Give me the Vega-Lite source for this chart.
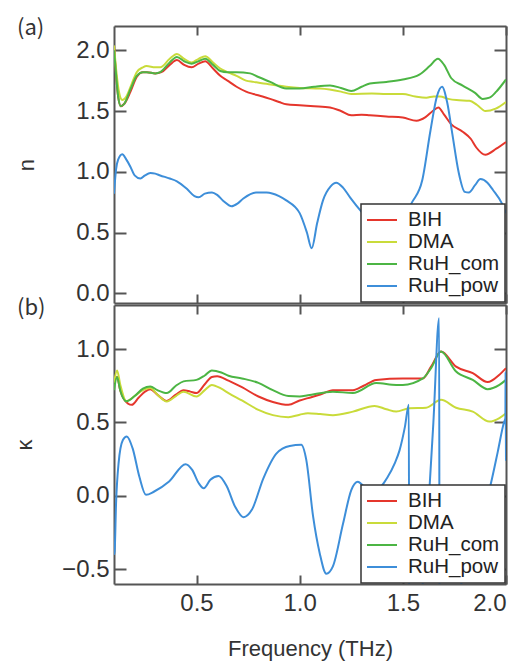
{
"$schema": "https://vega.github.io/schema/vega-lite/v6.json",
"padding": {"left": 13, "top": 17, "right": 12, "bottom": 5},
"config": {
  "view": {"stroke": null},
  "font": "Liberation Sans",
  "axis": {"domainColor": "#555", "domainWidth": 2, "tickColor": "#555", "tickWidth": 2, "grid": false, "labelColor": "#333", "labelFontSize": 24, "labelFont": "Liberation Sans", "titleColor": "#333", "titleFontWeight": "normal", "titleFontSize": 22, "titleFont": "Liberation Sans"},
  "legend": {"orient": "bottom-right", "offset": 1, "title": null, "labelFont": "Liberation Sans", "labelFontSize": 20.5, "labelColor": "#222", "symbolType": "M-1,0H2", "symbolSize": 400, "symbolStrokeWidth": 2, "labelOffset": 20, "padding": 5, "rowPadding": -1.8, "strokeColor": "#333", "strokeWidth": 1.5, "fillColor": "white", "cornerRadius": 0}
},
"datasets": {"d": [
{"p":"n","s":"BIH","o":0,"f":0.1,"v":2.03},{"p":"n","s":"BIH","o":1,"f":0.11,"v":1.8},{"p":"n","s":"BIH","o":2,"f":0.12,"v":1.62},{"p":"n","s":"BIH","o":3,"f":0.133,"v":1.54},{"p":"n","s":"BIH","o":4,"f":0.15,"v":1.56},{"p":"n","s":"BIH","o":5,"f":0.18,"v":1.66},{"p":"n","s":"BIH","o":6,"f":0.21,"v":1.78},{"p":"n","s":"BIH","o":7,"f":0.24,"v":1.82},{"p":"n","s":"BIH","o":8,"f":0.26,"v":1.82},{"p":"n","s":"BIH","o":9,"f":0.3,"v":1.81},{"p":"n","s":"BIH","o":10,"f":0.33,"v":1.82},{"p":"n","s":"BIH","o":11,"f":0.37,"v":1.88},{"p":"n","s":"BIH","o":12,"f":0.405,"v":1.92},{"p":"n","s":"BIH","o":13,"f":0.44,"v":1.88},{"p":"n","s":"BIH","o":14,"f":0.476,"v":1.86},{"p":"n","s":"BIH","o":15,"f":0.51,"v":1.89},{"p":"n","s":"BIH","o":16,"f":0.542,"v":1.91},{"p":"n","s":"BIH","o":17,"f":0.58,"v":1.85},{"p":"n","s":"BIH","o":18,"f":0.615,"v":1.79},{"p":"n","s":"BIH","o":19,"f":0.65,"v":1.75},{"p":"n","s":"BIH","o":20,"f":0.694,"v":1.7},{"p":"n","s":"BIH","o":21,"f":0.74,"v":1.66},{"p":"n","s":"BIH","o":22,"f":0.776,"v":1.64},{"p":"n","s":"BIH","o":23,"f":0.82,"v":1.62},{"p":"n","s":"BIH","o":24,"f":0.857,"v":1.6},{"p":"n","s":"BIH","o":25,"f":0.9,"v":1.575},{"p":"n","s":"BIH","o":26,"f":0.935,"v":1.555},{"p":"n","s":"BIH","o":27,"f":1.0,"v":1.547},{"p":"n","s":"BIH","o":28,"f":1.07,"v":1.54},{"p":"n","s":"BIH","o":29,"f":1.147,"v":1.53},{"p":"n","s":"BIH","o":30,"f":1.2,"v":1.5},{"p":"n","s":"BIH","o":31,"f":1.25,"v":1.465},{"p":"n","s":"BIH","o":32,"f":1.3,"v":1.47},{"p":"n","s":"BIH","o":33,"f":1.34,"v":1.465},{"p":"n","s":"BIH","o":34,"f":1.42,"v":1.455},{"p":"n","s":"BIH","o":35,"f":1.5,"v":1.446},{"p":"n","s":"BIH","o":36,"f":1.566,"v":1.42},{"p":"n","s":"BIH","o":37,"f":1.61,"v":1.45},{"p":"n","s":"BIH","o":38,"f":1.645,"v":1.5},{"p":"n","s":"BIH","o":39,"f":1.672,"v":1.53},{"p":"n","s":"BIH","o":40,"f":1.7,"v":1.47},{"p":"n","s":"BIH","o":41,"f":1.735,"v":1.39},{"p":"n","s":"BIH","o":42,"f":1.79,"v":1.33},{"p":"n","s":"BIH","o":43,"f":1.83,"v":1.27},{"p":"n","s":"BIH","o":44,"f":1.856,"v":1.2},{"p":"n","s":"BIH","o":45,"f":1.9,"v":1.14},{"p":"n","s":"BIH","o":46,"f":1.953,"v":1.19},{"p":"n","s":"BIH","o":47,"f":2.0,"v":1.245},
{"p":"n","s":"DMA","o":0,"f":0.1,"v":2.04},{"p":"n","s":"DMA","o":1,"f":0.11,"v":1.85},{"p":"n","s":"DMA","o":2,"f":0.125,"v":1.65},{"p":"n","s":"DMA","o":3,"f":0.14,"v":1.59},{"p":"n","s":"DMA","o":4,"f":0.16,"v":1.62},{"p":"n","s":"DMA","o":5,"f":0.185,"v":1.72},{"p":"n","s":"DMA","o":6,"f":0.21,"v":1.82},{"p":"n","s":"DMA","o":7,"f":0.24,"v":1.86},{"p":"n","s":"DMA","o":8,"f":0.258,"v":1.87},{"p":"n","s":"DMA","o":9,"f":0.3,"v":1.86},{"p":"n","s":"DMA","o":10,"f":0.324,"v":1.86},{"p":"n","s":"DMA","o":11,"f":0.37,"v":1.93},{"p":"n","s":"DMA","o":12,"f":0.405,"v":1.97},{"p":"n","s":"DMA","o":13,"f":0.44,"v":1.93},{"p":"n","s":"DMA","o":14,"f":0.476,"v":1.9},{"p":"n","s":"DMA","o":15,"f":0.51,"v":1.93},{"p":"n","s":"DMA","o":16,"f":0.542,"v":1.95},{"p":"n","s":"DMA","o":17,"f":0.58,"v":1.9},{"p":"n","s":"DMA","o":18,"f":0.615,"v":1.85},{"p":"n","s":"DMA","o":19,"f":0.65,"v":1.82},{"p":"n","s":"DMA","o":20,"f":0.694,"v":1.79},{"p":"n","s":"DMA","o":21,"f":0.74,"v":1.75},{"p":"n","s":"DMA","o":22,"f":0.776,"v":1.74},{"p":"n","s":"DMA","o":23,"f":0.85,"v":1.72},{"p":"n","s":"DMA","o":24,"f":0.935,"v":1.7},{"p":"n","s":"DMA","o":25,"f":1.0,"v":1.69},{"p":"n","s":"DMA","o":26,"f":1.1,"v":1.685},{"p":"n","s":"DMA","o":27,"f":1.2,"v":1.66},{"p":"n","s":"DMA","o":28,"f":1.25,"v":1.64},{"p":"n","s":"DMA","o":29,"f":1.35,"v":1.645},{"p":"n","s":"DMA","o":30,"f":1.42,"v":1.64},{"p":"n","s":"DMA","o":31,"f":1.5,"v":1.64},{"p":"n","s":"DMA","o":32,"f":1.56,"v":1.62},{"p":"n","s":"DMA","o":33,"f":1.614,"v":1.61},{"p":"n","s":"DMA","o":34,"f":1.65,"v":1.62},{"p":"n","s":"DMA","o":35,"f":1.68,"v":1.62},{"p":"n","s":"DMA","o":36,"f":1.72,"v":1.6},{"p":"n","s":"DMA","o":37,"f":1.76,"v":1.59},{"p":"n","s":"DMA","o":38,"f":1.823,"v":1.585},{"p":"n","s":"DMA","o":39,"f":1.86,"v":1.55},{"p":"n","s":"DMA","o":40,"f":1.9,"v":1.5},{"p":"n","s":"DMA","o":41,"f":1.95,"v":1.52},{"p":"n","s":"DMA","o":42,"f":2.0,"v":1.575},
{"p":"n","s":"RuH_com","o":0,"f":0.1,"v":2.0},{"p":"n","s":"RuH_com","o":1,"f":0.11,"v":1.8},{"p":"n","s":"RuH_com","o":2,"f":0.12,"v":1.62},{"p":"n","s":"RuH_com","o":3,"f":0.133,"v":1.54},{"p":"n","s":"RuH_com","o":4,"f":0.15,"v":1.56},{"p":"n","s":"RuH_com","o":5,"f":0.18,"v":1.68},{"p":"n","s":"RuH_com","o":6,"f":0.21,"v":1.79},{"p":"n","s":"RuH_com","o":7,"f":0.24,"v":1.82},{"p":"n","s":"RuH_com","o":8,"f":0.258,"v":1.82},{"p":"n","s":"RuH_com","o":9,"f":0.3,"v":1.81},{"p":"n","s":"RuH_com","o":10,"f":0.324,"v":1.82},{"p":"n","s":"RuH_com","o":11,"f":0.37,"v":1.9},{"p":"n","s":"RuH_com","o":12,"f":0.405,"v":1.945},{"p":"n","s":"RuH_com","o":13,"f":0.44,"v":1.91},{"p":"n","s":"RuH_com","o":14,"f":0.476,"v":1.89},{"p":"n","s":"RuH_com","o":15,"f":0.51,"v":1.91},{"p":"n","s":"RuH_com","o":16,"f":0.542,"v":1.93},{"p":"n","s":"RuH_com","o":17,"f":0.58,"v":1.88},{"p":"n","s":"RuH_com","o":18,"f":0.615,"v":1.83},{"p":"n","s":"RuH_com","o":19,"f":0.65,"v":1.82},{"p":"n","s":"RuH_com","o":20,"f":0.694,"v":1.82},{"p":"n","s":"RuH_com","o":21,"f":0.76,"v":1.81},{"p":"n","s":"RuH_com","o":22,"f":0.8,"v":1.78},{"p":"n","s":"RuH_com","o":23,"f":0.857,"v":1.74},{"p":"n","s":"RuH_com","o":24,"f":0.935,"v":1.685},{"p":"n","s":"RuH_com","o":25,"f":1.0,"v":1.685},{"p":"n","s":"RuH_com","o":26,"f":1.07,"v":1.7},{"p":"n","s":"RuH_com","o":27,"f":1.147,"v":1.71},{"p":"n","s":"RuH_com","o":28,"f":1.2,"v":1.69},{"p":"n","s":"RuH_com","o":29,"f":1.25,"v":1.665},{"p":"n","s":"RuH_com","o":30,"f":1.3,"v":1.7},{"p":"n","s":"RuH_com","o":31,"f":1.34,"v":1.726},{"p":"n","s":"RuH_com","o":32,"f":1.42,"v":1.74},{"p":"n","s":"RuH_com","o":33,"f":1.5,"v":1.76},{"p":"n","s":"RuH_com","o":34,"f":1.58,"v":1.8},{"p":"n","s":"RuH_com","o":35,"f":1.63,"v":1.87},{"p":"n","s":"RuH_com","o":36,"f":1.67,"v":1.93},{"p":"n","s":"RuH_com","o":37,"f":1.7,"v":1.88},{"p":"n","s":"RuH_com","o":38,"f":1.735,"v":1.77},{"p":"n","s":"RuH_com","o":39,"f":1.79,"v":1.71},{"p":"n","s":"RuH_com","o":40,"f":1.85,"v":1.65},{"p":"n","s":"RuH_com","o":41,"f":1.887,"v":1.6},{"p":"n","s":"RuH_com","o":42,"f":1.92,"v":1.61},{"p":"n","s":"RuH_com","o":43,"f":1.953,"v":1.66},{"p":"n","s":"RuH_com","o":44,"f":2.0,"v":1.76},
{"p":"n","s":"RuH_pow","o":0,"f":0.1,"v":0.82},{"p":"n","s":"RuH_pow","o":1,"f":0.11,"v":1.02},{"p":"n","s":"RuH_pow","o":2,"f":0.12,"v":1.1},{"p":"n","s":"RuH_pow","o":3,"f":0.14,"v":1.145},{"p":"n","s":"RuH_pow","o":4,"f":0.16,"v":1.1},{"p":"n","s":"RuH_pow","o":5,"f":0.18,"v":1.04},{"p":"n","s":"RuH_pow","o":6,"f":0.2,"v":0.97},{"p":"n","s":"RuH_pow","o":7,"f":0.228,"v":0.944},{"p":"n","s":"RuH_pow","o":8,"f":0.25,"v":0.97},{"p":"n","s":"RuH_pow","o":9,"f":0.276,"v":0.99},{"p":"n","s":"RuH_pow","o":10,"f":0.3,"v":0.985},{"p":"n","s":"RuH_pow","o":11,"f":0.324,"v":0.97},{"p":"n","s":"RuH_pow","o":12,"f":0.37,"v":0.945},{"p":"n","s":"RuH_pow","o":13,"f":0.405,"v":0.922},{"p":"n","s":"RuH_pow","o":14,"f":0.453,"v":0.86},{"p":"n","s":"RuH_pow","o":15,"f":0.49,"v":0.8},{"p":"n","s":"RuH_pow","o":16,"f":0.51,"v":0.79},{"p":"n","s":"RuH_pow","o":17,"f":0.54,"v":0.82},{"p":"n","s":"RuH_pow","o":18,"f":0.575,"v":0.83},{"p":"n","s":"RuH_pow","o":19,"f":0.6,"v":0.81},{"p":"n","s":"RuH_pow","o":20,"f":0.63,"v":0.76},{"p":"n","s":"RuH_pow","o":21,"f":0.67,"v":0.716},{"p":"n","s":"RuH_pow","o":22,"f":0.7,"v":0.74},{"p":"n","s":"RuH_pow","o":23,"f":0.727,"v":0.78},{"p":"n","s":"RuH_pow","o":24,"f":0.79,"v":0.83},{"p":"n","s":"RuH_pow","o":25,"f":0.84,"v":0.83},{"p":"n","s":"RuH_pow","o":26,"f":0.9,"v":0.8},{"p":"n","s":"RuH_pow","o":27,"f":0.935,"v":0.765},{"p":"n","s":"RuH_pow","o":28,"f":1.0,"v":0.66},{"p":"n","s":"RuH_pow","o":29,"f":1.035,"v":0.5},{"p":"n","s":"RuH_pow","o":30,"f":1.058,"v":0.37},{"p":"n","s":"RuH_pow","o":31,"f":1.085,"v":0.58},{"p":"n","s":"RuH_pow","o":32,"f":1.113,"v":0.765},{"p":"n","s":"RuH_pow","o":33,"f":1.15,"v":0.88},{"p":"n","s":"RuH_pow","o":34,"f":1.177,"v":0.91},{"p":"n","s":"RuH_pow","o":35,"f":1.21,"v":0.87},{"p":"n","s":"RuH_pow","o":36,"f":1.244,"v":0.79},{"p":"n","s":"RuH_pow","o":37,"f":1.3,"v":0.67},{"p":"n","s":"RuH_pow","o":38,"f":1.36,"v":0.56},{"p":"n","s":"RuH_pow","o":39,"f":1.42,"v":0.55},{"p":"n","s":"RuH_pow","o":40,"f":1.5,"v":0.62},{"p":"n","s":"RuH_pow","o":41,"f":1.545,"v":0.75},{"p":"n","s":"RuH_pow","o":42,"f":1.594,"v":0.93},{"p":"n","s":"RuH_pow","o":43,"f":1.634,"v":1.34},{"p":"n","s":"RuH_pow","o":44,"f":1.665,"v":1.62},{"p":"n","s":"RuH_pow","o":45,"f":1.69,"v":1.7},{"p":"n","s":"RuH_pow","o":46,"f":1.715,"v":1.57},{"p":"n","s":"RuH_pow","o":47,"f":1.74,"v":1.31},{"p":"n","s":"RuH_pow","o":48,"f":1.77,"v":1.0},{"p":"n","s":"RuH_pow","o":49,"f":1.8,"v":0.835},{"p":"n","s":"RuH_pow","o":50,"f":1.82,"v":0.83},{"p":"n","s":"RuH_pow","o":51,"f":1.85,"v":0.89},{"p":"n","s":"RuH_pow","o":52,"f":1.876,"v":0.94},{"p":"n","s":"RuH_pow","o":53,"f":1.91,"v":0.91},{"p":"n","s":"RuH_pow","o":54,"f":1.937,"v":0.85},{"p":"n","s":"RuH_pow","o":55,"f":1.98,"v":0.74},{"p":"n","s":"RuH_pow","o":56,"f":2.0,"v":0.66},
{"p":"k","s":"BIH","o":0,"f":0.1,"v":0.77},{"p":"k","s":"BIH","o":1,"f":0.115,"v":0.81},{"p":"k","s":"BIH","o":2,"f":0.13,"v":0.72},{"p":"k","s":"BIH","o":3,"f":0.15,"v":0.655},{"p":"k","s":"BIH","o":4,"f":0.186,"v":0.62},{"p":"k","s":"BIH","o":5,"f":0.22,"v":0.67},{"p":"k","s":"BIH","o":6,"f":0.25,"v":0.71},{"p":"k","s":"BIH","o":7,"f":0.276,"v":0.727},{"p":"k","s":"BIH","o":8,"f":0.31,"v":0.69},{"p":"k","s":"BIH","o":9,"f":0.356,"v":0.647},{"p":"k","s":"BIH","o":10,"f":0.4,"v":0.69},{"p":"k","s":"BIH","o":11,"f":0.437,"v":0.72},{"p":"k","s":"BIH","o":12,"f":0.47,"v":0.71},{"p":"k","s":"BIH","o":13,"f":0.5,"v":0.7},{"p":"k","s":"BIH","o":14,"f":0.54,"v":0.76},{"p":"k","s":"BIH","o":15,"f":0.574,"v":0.81},{"p":"k","s":"BIH","o":16,"f":0.6,"v":0.815},{"p":"k","s":"BIH","o":17,"f":0.655,"v":0.785},{"p":"k","s":"BIH","o":18,"f":0.72,"v":0.74},{"p":"k","s":"BIH","o":19,"f":0.8,"v":0.677},{"p":"k","s":"BIH","o":20,"f":0.87,"v":0.64},{"p":"k","s":"BIH","o":21,"f":0.945,"v":0.62},{"p":"k","s":"BIH","o":22,"f":1.0,"v":0.65},{"p":"k","s":"BIH","o":23,"f":1.04,"v":0.666},{"p":"k","s":"BIH","o":24,"f":1.1,"v":0.69},{"p":"k","s":"BIH","o":25,"f":1.161,"v":0.72},{"p":"k","s":"BIH","o":26,"f":1.258,"v":0.72},{"p":"k","s":"BIH","o":27,"f":1.31,"v":0.75},{"p":"k","s":"BIH","o":28,"f":1.371,"v":0.79},{"p":"k","s":"BIH","o":29,"f":1.5,"v":0.8},{"p":"k","s":"BIH","o":30,"f":1.597,"v":0.8},{"p":"k","s":"BIH","o":31,"f":1.637,"v":0.88},{"p":"k","s":"BIH","o":32,"f":1.685,"v":0.983},{"p":"k","s":"BIH","o":33,"f":1.758,"v":0.88},{"p":"k","s":"BIH","o":34,"f":1.839,"v":0.836},{"p":"k","s":"BIH","o":35,"f":1.911,"v":0.775},{"p":"k","s":"BIH","o":36,"f":1.968,"v":0.825},{"p":"k","s":"BIH","o":37,"f":2.0,"v":0.87},
{"p":"k","s":"DMA","o":0,"f":0.1,"v":0.77},{"p":"k","s":"DMA","o":1,"f":0.115,"v":0.854},{"p":"k","s":"DMA","o":2,"f":0.13,"v":0.76},{"p":"k","s":"DMA","o":3,"f":0.16,"v":0.645},{"p":"k","s":"DMA","o":4,"f":0.2,"v":0.68},{"p":"k","s":"DMA","o":5,"f":0.24,"v":0.72},{"p":"k","s":"DMA","o":6,"f":0.276,"v":0.735},{"p":"k","s":"DMA","o":7,"f":0.31,"v":0.69},{"p":"k","s":"DMA","o":8,"f":0.356,"v":0.643},{"p":"k","s":"DMA","o":9,"f":0.4,"v":0.68},{"p":"k","s":"DMA","o":10,"f":0.437,"v":0.71},{"p":"k","s":"DMA","o":11,"f":0.5,"v":0.677},{"p":"k","s":"DMA","o":12,"f":0.54,"v":0.72},{"p":"k","s":"DMA","o":13,"f":0.574,"v":0.756},{"p":"k","s":"DMA","o":14,"f":0.62,"v":0.73},{"p":"k","s":"DMA","o":15,"f":0.655,"v":0.7},{"p":"k","s":"DMA","o":16,"f":0.72,"v":0.65},{"p":"k","s":"DMA","o":17,"f":0.8,"v":0.586},{"p":"k","s":"DMA","o":18,"f":0.87,"v":0.55},{"p":"k","s":"DMA","o":19,"f":0.945,"v":0.536},{"p":"k","s":"DMA","o":20,"f":1.0,"v":0.553},{"p":"k","s":"DMA","o":21,"f":1.04,"v":0.563},{"p":"k","s":"DMA","o":22,"f":1.1,"v":0.557},{"p":"k","s":"DMA","o":23,"f":1.161,"v":0.55},{"p":"k","s":"DMA","o":24,"f":1.258,"v":0.574},{"p":"k","s":"DMA","o":25,"f":1.363,"v":0.613},{"p":"k","s":"DMA","o":26,"f":1.42,"v":0.59},{"p":"k","s":"DMA","o":27,"f":1.468,"v":0.574},{"p":"k","s":"DMA","o":28,"f":1.532,"v":0.597},{"p":"k","s":"DMA","o":29,"f":1.613,"v":0.6},{"p":"k","s":"DMA","o":30,"f":1.685,"v":0.654},{"p":"k","s":"DMA","o":31,"f":1.758,"v":0.6},{"p":"k","s":"DMA","o":32,"f":1.839,"v":0.574},{"p":"k","s":"DMA","o":33,"f":1.919,"v":0.506},{"p":"k","s":"DMA","o":34,"f":1.968,"v":0.53},{"p":"k","s":"DMA","o":35,"f":2.0,"v":0.563},
{"p":"k","s":"RuH_com","o":0,"f":0.1,"v":0.72},{"p":"k","s":"RuH_com","o":1,"f":0.115,"v":0.81},{"p":"k","s":"RuH_com","o":2,"f":0.13,"v":0.72},{"p":"k","s":"RuH_com","o":3,"f":0.16,"v":0.645},{"p":"k","s":"RuH_com","o":4,"f":0.2,"v":0.68},{"p":"k","s":"RuH_com","o":5,"f":0.24,"v":0.73},{"p":"k","s":"RuH_com","o":6,"f":0.276,"v":0.745},{"p":"k","s":"RuH_com","o":7,"f":0.31,"v":0.72},{"p":"k","s":"RuH_com","o":8,"f":0.356,"v":0.7},{"p":"k","s":"RuH_com","o":9,"f":0.4,"v":0.75},{"p":"k","s":"RuH_com","o":10,"f":0.437,"v":0.78},{"p":"k","s":"RuH_com","o":11,"f":0.5,"v":0.79},{"p":"k","s":"RuH_com","o":12,"f":0.54,"v":0.82},{"p":"k","s":"RuH_com","o":13,"f":0.574,"v":0.854},{"p":"k","s":"RuH_com","o":14,"f":0.62,"v":0.84},{"p":"k","s":"RuH_com","o":15,"f":0.655,"v":0.818},{"p":"k","s":"RuH_com","o":16,"f":0.72,"v":0.8},{"p":"k","s":"RuH_com","o":17,"f":0.8,"v":0.77},{"p":"k","s":"RuH_com","o":18,"f":0.87,"v":0.72},{"p":"k","s":"RuH_com","o":19,"f":0.945,"v":0.68},{"p":"k","s":"RuH_com","o":20,"f":1.0,"v":0.677},{"p":"k","s":"RuH_com","o":21,"f":1.04,"v":0.685},{"p":"k","s":"RuH_com","o":22,"f":1.161,"v":0.71},{"p":"k","s":"RuH_com","o":23,"f":1.258,"v":0.7},{"p":"k","s":"RuH_com","o":24,"f":1.371,"v":0.768},{"p":"k","s":"RuH_com","o":25,"f":1.468,"v":0.756},{"p":"k","s":"RuH_com","o":26,"f":1.5,"v":0.756},{"p":"k","s":"RuH_com","o":27,"f":1.597,"v":0.8},{"p":"k","s":"RuH_com","o":28,"f":1.637,"v":0.87},{"p":"k","s":"RuH_com","o":29,"f":1.685,"v":0.983},{"p":"k","s":"RuH_com","o":30,"f":1.758,"v":0.847},{"p":"k","s":"RuH_com","o":31,"f":1.839,"v":0.79},{"p":"k","s":"RuH_com","o":32,"f":1.911,"v":0.727},{"p":"k","s":"RuH_com","o":33,"f":1.968,"v":0.756},{"p":"k","s":"RuH_com","o":34,"f":2.0,"v":0.79},
{"p":"k","s":"RuH_pow","o":0,"f":0.1,"v":-0.4},{"p":"k","s":"RuH_pow","o":1,"f":0.103,"v":-0.38},{"p":"k","s":"RuH_pow","o":2,"f":0.11,"v":-0.05},{"p":"k","s":"RuH_pow","o":3,"f":0.122,"v":0.22},{"p":"k","s":"RuH_pow","o":4,"f":0.143,"v":0.38},{"p":"k","s":"RuH_pow","o":5,"f":0.162,"v":0.405},{"p":"k","s":"RuH_pow","o":6,"f":0.19,"v":0.325},{"p":"k","s":"RuH_pow","o":7,"f":0.223,"v":0.13},{"p":"k","s":"RuH_pow","o":8,"f":0.255,"v":0.007},{"p":"k","s":"RuH_pow","o":9,"f":0.295,"v":0.03},{"p":"k","s":"RuH_pow","o":10,"f":0.367,"v":0.098},{"p":"k","s":"RuH_pow","o":11,"f":0.447,"v":0.216},{"p":"k","s":"RuH_pow","o":12,"f":0.479,"v":0.177},{"p":"k","s":"RuH_pow","o":13,"f":0.511,"v":0.086},{"p":"k","s":"RuH_pow","o":14,"f":0.535,"v":0.052},{"p":"k","s":"RuH_pow","o":15,"f":0.567,"v":0.11},{"p":"k","s":"RuH_pow","o":16,"f":0.607,"v":0.136},{"p":"k","s":"RuH_pow","o":17,"f":0.647,"v":0.064},{"p":"k","s":"RuH_pow","o":18,"f":0.687,"v":-0.073},{"p":"k","s":"RuH_pow","o":19,"f":0.728,"v":-0.145},{"p":"k","s":"RuH_pow","o":20,"f":0.768,"v":-0.095},{"p":"k","s":"RuH_pow","o":21,"f":0.824,"v":0.12},{"p":"k","s":"RuH_pow","o":22,"f":0.888,"v":0.29},{"p":"k","s":"RuH_pow","o":23,"f":0.952,"v":0.34},{"p":"k","s":"RuH_pow","o":24,"f":1.008,"v":0.348},{"p":"k","s":"RuH_pow","o":25,"f":1.032,"v":0.245},{"p":"k","s":"RuH_pow","o":26,"f":1.065,"v":-0.14},{"p":"k","s":"RuH_pow","o":27,"f":1.097,"v":-0.39},{"p":"k","s":"RuH_pow","o":28,"f":1.129,"v":-0.53},{"p":"k","s":"RuH_pow","o":29,"f":1.161,"v":-0.48},{"p":"k","s":"RuH_pow","o":30,"f":1.21,"v":-0.19},{"p":"k","s":"RuH_pow","o":31,"f":1.25,"v":0.04},{"p":"k","s":"RuH_pow","o":32,"f":1.282,"v":0.097},{"p":"k","s":"RuH_pow","o":33,"f":1.315,"v":0.06},{"p":"k","s":"RuH_pow","o":34,"f":1.37,"v":0.04},{"p":"k","s":"RuH_pow","o":35,"f":1.427,"v":0.13},{"p":"k","s":"RuH_pow","o":36,"f":1.46,"v":0.22},{"p":"k","s":"RuH_pow","o":37,"f":1.484,"v":0.31},{"p":"k","s":"RuH_pow","o":38,"f":1.51,"v":0.47},{"p":"k","s":"RuH_pow","o":39,"f":1.529,"v":0.62},{"p":"k","s":"RuH_pow","o":40,"f":1.531,"v":-1.0},{"p":"k","s":"RuH_pow","o":41,"f":1.598,"v":-0.58},{"p":"k","s":"RuH_pow","o":42,"f":1.627,"v":0.0},{"p":"k","s":"RuH_pow","o":43,"f":1.648,"v":0.5},{"p":"k","s":"RuH_pow","o":44,"f":1.676,"v":1.21},{"p":"k","s":"RuH_pow","o":45,"f":1.678,"v":-1.2},{"p":"k","s":"RuH_pow","o":46,"f":1.76,"v":-0.7},{"p":"k","s":"RuH_pow","o":47,"f":1.82,"v":-0.45},{"p":"k","s":"RuH_pow","o":48,"f":1.88,"v":-0.15},{"p":"k","s":"RuH_pow","o":49,"f":1.927,"v":0.086},{"p":"k","s":"RuH_pow","o":50,"f":1.96,"v":0.3},{"p":"k","s":"RuH_pow","o":51,"f":1.99,"v":0.5},{"p":"k","s":"RuH_pow","o":52,"f":1.997,"v":0.53},{"p":"k","s":"RuH_pow","o":53,"f":1.998,"v":0.84},{"p":"k","s":"RuH_pow","o":54,"f":2.0,"v":0.24}
]},
"spacing": 2,
"bounds": "flush",
"resolve": {"legend": {"color": "independent"}},
"vconcat": [
{
  "width": 392, "height": 277,
  "title": {"text": "(a)", "anchor": "start", "frame": "group", "dx": -97, "dy": 25, "offset": 0, "baseline": "middle", "fontSize": 22, "font": "Noto Sans CJK JP", "fontWeight": "normal", "color": "#333"},
  "data": {"name": "d"},
  "transform": [{"filter": "datum.p == 'n'"}],
  "layer": [
    {"mark": {"type": "line", "clip": true, "interpolate": "monotone", "strokeWidth": 2},
     "encoding": {
       "x": {"field": "f", "type": "quantitative", "scale": {"domain": [0.1, 2.0], "nice": false, "zero": false}, "axis": {"orient": "bottom", "values": [0.5, 1, 1.5, 2], "labels": false, "tickSize": -9, "title": null}},
       "y": {"field": "v", "type": "quantitative", "scale": {"domain": [-0.08, 2.2], "nice": false, "zero": false}, "axis": {"orient": "left", "values": [0, 0.5, 1, 1.5, 2], "format": ".1f", "tickSize": -12, "labelPadding": 17, "title": "n", "titlePadding": 37}},
       "color": {"field": "s", "type": "nominal", "scale": {"domain": ["BIH", "DMA", "RuH_com", "RuH_pow"], "range": ["#e5362c", "#c9db3a", "#4cb544", "#3d8ed9"]}},
       "order": {"field": "o", "type": "quantitative"}
     }},
    {"mark": {"type": "point", "opacity": 0},
     "encoding": {
       "x": {"field": "f", "type": "quantitative", "scale": {"domain": [0.1, 2.0], "nice": false, "zero": false}, "axis": {"orient": "top", "values": [0.5, 1, 1.5, 2], "labels": false, "tickSize": -9, "title": null}},
       "y": {"field": "v", "type": "quantitative", "scale": {"domain": [-0.08, 2.2], "nice": false, "zero": false}, "axis": {"orient": "right", "values": [0, 0.5, 1, 1.5, 2], "labels": false, "tickSize": -12, "title": null}}
     }}
  ],
  "resolve": {"scale": {"x": "independent", "y": "independent"}}
},
{
  "width": 392, "height": 279,
  "title": {"text": "(b)", "anchor": "start", "frame": "group", "dx": -97, "dy": 26, "offset": 0, "baseline": "middle", "fontSize": 22, "font": "Noto Sans CJK JP", "fontWeight": "normal", "color": "#333"},
  "data": {"name": "d"},
  "transform": [{"filter": "datum.p == 'k'"}],
  "layer": [
    {"mark": {"type": "line", "clip": true, "interpolate": "monotone", "strokeWidth": 2},
     "encoding": {
       "x": {"field": "f", "type": "quantitative", "scale": {"domain": [0.1, 2.0], "nice": false, "zero": false}, "axis": {"orient": "bottom", "values": [0.5, 1, 1.5, 2], "format": ".1f", "tickSize": -9, "labelPadding": 16, "title": "Frequency (THz)", "titlePadding": 23}},
       "y": {"field": "v", "type": "quantitative", "scale": {"domain": [-0.6, 1.3], "nice": false, "zero": false}, "axis": {"orient": "left", "values": [-0.5, 0, 0.5, 1], "format": ".1f", "tickSize": -12, "labelPadding": 17, "title": "κ", "titlePadding": 25}},
       "color": {"field": "s", "type": "nominal", "scale": {"domain": ["BIH", "DMA", "RuH_com", "RuH_pow"], "range": ["#e5362c", "#c9db3a", "#4cb544", "#3d8ed9"]}},
       "order": {"field": "o", "type": "quantitative"}
     }},
    {"mark": {"type": "point", "opacity": 0},
     "encoding": {
       "x": {"field": "f", "type": "quantitative", "scale": {"domain": [0.1, 2.0], "nice": false, "zero": false}, "axis": {"orient": "top", "values": [0.5, 1, 1.5, 2], "labels": false, "tickSize": -9, "title": null}},
       "y": {"field": "v", "type": "quantitative", "scale": {"domain": [-0.6, 1.3], "nice": false, "zero": false}, "axis": {"orient": "right", "values": [-0.5, 0, 0.5, 1], "labels": false, "tickSize": -12, "title": null}}
     }}
  ],
  "resolve": {"scale": {"x": "independent", "y": "independent"}}
}
]
}
